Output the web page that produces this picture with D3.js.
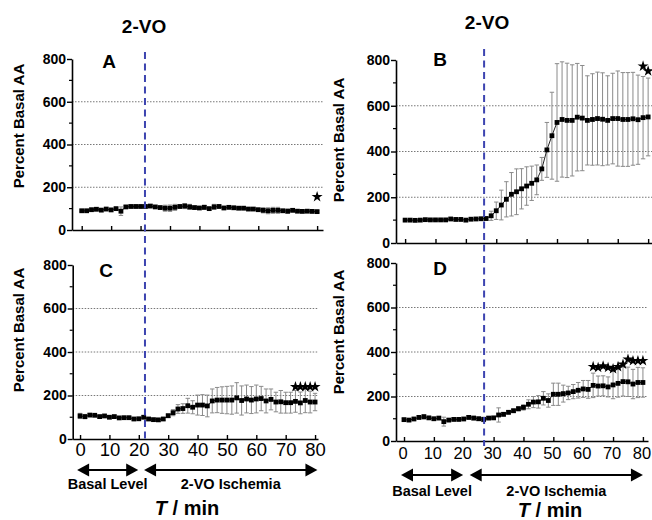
<!DOCTYPE html>
<html><head><meta charset="utf-8">
<script src="https://cdn.jsdelivr.net/npm/d3@7"></script>
<style>body{margin:0;background:#fff} svg{display:block;font-family:"Liberation Sans",Arial,sans-serif}</style>
</head><body><svg id="c" width="652" height="520"></svg>
<script>
// ---- data ----
const times = [0,1.67,3.33,5,6.67,8.33,10,11.67,13.33,15,16.67,18.33,20,21.67,23.33,25,26.67,28.33,30,31.67,33.33,35,36.67,38.33,40,41.67,43.33,45,46.67,48.33,50,51.67,53.33,55,56.67,58.33,60,61.67,63.33,65,66.67,68.33,70,71.67,73.33,75,76.67,78.33,80];
const valuesA = [90,90,95,97,93,98,94,100,88,108,110,110,110,110,112,108,105,102,102,106,110,112,108,105,103,106,100,108,110,103,106,104,102,102,98,98,95,92,90,92,92,90,88,92,88,87,88,87,86];
const errorsA = [4,4,4,4,4,4,4,4,20,5,5,5,5,5,6,5,5,14,15,14,6,12,12,6,5,10,6,12,6,5,5,5,5,5,4,4,4,12,14,14,14,6,10,5,4,4,4,4,4];
const valuesB = [100,100,99,100,102,101,101,101,101,105,103,103,100,104,105,106,107,119,141,166,191,213,224,237,249,261,276,324,407,469,527,540,536,536,550,546,536,540,544,541,536,544,544,540,540,543,539,548,551];
const errorsB = [3,3,3,3,3,3,3,3,3,3,3,3,3,3,3,3,8,20,38,65,77,95,100,88,84,75,65,50,120,190,257,252,250,243,235,230,195,200,203,203,195,198,208,205,205,203,195,180,170];
const valuesC = [106,103,110,109,103,106,100,103,97,98,98,92,93,100,92,89,88,92,107,121,138,140,153,146,156,156,152,175,179,179,179,179,189,177,184,179,184,186,175,182,170,171,167,167,173,166,177,170,170];
const errorsC = [12,10,6,5,5,5,5,5,5,5,5,5,5,5,5,6,6,6,8,14,20,22,34,30,46,48,50,55,58,61,63,65,70,67,64,62,64,56,55,48,45,52,48,48,50,50,56,50,40];
const valuesD = [96,94,99,106,109,104,100,103,87,94,97,97,99,106,103,100,97,103,104,117,120,129,136,145,151,165,175,176,192,182,210,210,213,216,222,228,234,232,250,247,248,243,252,259,267,266,256,263,263];
const errorsD = [6,6,6,8,10,6,6,6,20,5,5,5,5,8,8,8,10,6,6,32,8,8,8,10,12,20,25,28,30,30,50,50,38,30,32,35,38,40,55,45,45,45,62,62,65,66,66,68,66];
const starTimesA = [80], starValuesA = [155];
const starTimesB = [78.33,80], starValuesB = [773,752];
const starTimesC = [73.33,75,76.67,78.33,80], starValuesC = [240,240,240,240,240];
const starTimesD = [63.33,65,66.67,68.33,70,71.67,73.33,75,76.67,78.33,80], starValuesD = [334,330,337,330,324,334,345,367,360,360,361];
const yTicks = [0,200,400,600,800];
const yMinorTicks = [100,300,500,700];
const gridValues = [200,400,600];
const xTicks = [0,10,20,30,40,50,60,70,80];
const ischemiaStart = [21.5, 26];   // left column, right column (min)
const basalSpan = [-1, 19.8], ischemiaSpan = [[21.8, 80.8],[22, 80]];
const panelLetters = ["A","B","C","D"];
const columnTitle = "2-VO";
const yLabel = "Percent Basal AA";
const basalLabel = "Basal Level", ischemiaLabel = "2-VO Ischemia";

// ---- layout ----
const svg = d3.select("#c");
const panels = [
  {L:"A", v:valuesA, e:errorsA, st:starTimesA, sv:starValuesA, xr:[72,323], xd:[-3.3,82], yr:[230,59], labels:false, letter:[109,68], ylab:[19,126], gridEnd:323},
  {L:"B", v:valuesB, e:errorsB, st:starTimesB, sv:starValuesB, xr:[396,653], xd:[-3,81.6], yr:[243,60], labels:false, letter:[440,66], ylab:[339,140], gridEnd:652},
  {L:"C", v:valuesC, e:errorsC, st:starTimesC, sv:starValuesC, xr:[72.7,318], xd:[-2.5,81], yr:[439,265], labels:true, pad:4, fs:18.5, dx:0, letter:[106,277], ylab:[19,330], gridEnd:318},
  {L:"D", v:valuesD, e:errorsD, st:starTimesD, sv:starValuesD, xr:[396,648], xd:[-2.68,81.7], yr:[441,263], labels:true, pad:6, fs:16.5, dx:-1.5, letter:[440,275], ylab:[339,332], gridEnd:648}
];
panels.forEach(p => {
  p.x = d3.scaleLinear().domain(p.xd).range(p.xr);
  p.y = d3.scaleLinear().domain([0,800]).range(p.yr);
});

panels.forEach((p,pi) => {
  const g = svg.append("g");
  // grid
  g.selectAll(".grid").data(gridValues).join("line")
    .attr("x1", p.xr[0]).attr("x2", p.gridEnd)
    .attr("y1", d=>p.y(d)).attr("y2", d=>p.y(d))
    .attr("stroke","#555").attr("stroke-width",0.8).attr("stroke-dasharray","1.5,1.5");
  // y axis
  const ya = g.append("g").attr("transform",`translate(${p.xr[0]},0)`)
    .call(d3.axisLeft(p.y).tickValues(yTicks).tickSize(5).tickSizeOuter(0).tickPadding(1));
  ya.selectAll("text").attr("font-size",14).attr("font-weight","bold").attr("fill","#000").attr("font-family","Liberation Sans, Arial");
  ya.selectAll("line").attr("stroke","#000").attr("stroke-width",1.4);
  ya.select(".domain").attr("stroke","#000").attr("stroke-width",1.6);
  g.selectAll(".minor").data(yMinorTicks).join("line")
    .attr("x1",p.xr[0]-3).attr("x2",p.xr[0]).attr("y1",d=>p.y(d)).attr("y2",d=>p.y(d))
    .attr("stroke","#000").attr("stroke-width",1.2);
  // x axis
  const xa = g.append("g").attr("transform",`translate(0,${p.yr[0]})`)
    .call(d3.axisBottom(p.x).tickValues(xTicks).tickSizeInner(-4).tickSizeOuter(0).tickPadding(p.pad||0));
  xa.select(".domain").attr("stroke","#000").attr("stroke-width",1.6);
  xa.selectAll("line").attr("stroke","#000").attr("stroke-width",1.4);
  if (p.labels) xa.selectAll("text").attr("font-size",p.fs).attr("dx",p.dx).attr("fill","#000").attr("font-family","Liberation Sans, Arial");
  else xa.selectAll("text").remove();
  // error bars
  const eb = g.append("g").attr("stroke","#8a8a8a").attr("stroke-width",1);
  times.forEach((t,i) => {
    const cx = p.x(t), hi = p.y(p.v[i]+p.e[i]), lo = p.y(p.v[i]-p.e[i]);
    eb.append("line").attr("x1",cx).attr("x2",cx).attr("y1",hi).attr("y2",lo);
    eb.append("line").attr("x1",cx-2.2).attr("x2",cx+2.2).attr("y1",hi).attr("y2",hi);
    eb.append("line").attr("x1",cx-2.2).attr("x2",cx+2.2).attr("y1",lo).attr("y2",lo);
  });
  // line
  g.append("path").datum(times.map((t,i)=>[t,p.v[i]]))
    .attr("d", d3.line().x(d=>p.x(d[0])).y(d=>p.y(d[1])))
    .attr("fill","none").attr("stroke","#222").attr("stroke-width",1);
  // markers
  g.selectAll(".pt").data(times.map((t,i)=>[t,p.v[i]])).join("rect")
    .attr("x",d=>p.x(d[0])-2.4).attr("y",d=>p.y(d[1])-2.4)
    .attr("width",4.8).attr("height",4.8).attr("fill","#000");
  // stars
  g.selectAll(".star").data(p.st.map((t,i)=>[t,p.sv[i]])).join("path")
    .attr("d", d3.symbol(d3.symbolStar, 38)())
    .attr("transform", d=>`translate(${p.x(d[0])},${p.y(d[1])})`)
    .attr("fill","#000");
  // letter
  svg.append("text").attr("x",p.letter[0]).attr("y",p.letter[1]).attr("text-anchor","middle")
    .attr("font-size",19).attr("font-weight","bold").text(panelLetters[pi]);
  // y label
  svg.append("text").attr("transform",`translate(${p.ylab[0]},${p.ylab[1]}) rotate(-90)`)
    .attr("text-anchor","middle").attr("dy","0.36em")
    .attr("font-size",15).attr("font-weight","bold").text(yLabel);
});

// dashed ischemia-onset lines (one per column, spanning both panels)
[[0,2,52,441],[1,3,49,446]].forEach((c,ci) => {
  const xp = panels[c[0]].x(ischemiaStart[ci]);
  svg.append("line").attr("x1",xp).attr("x2",xp).attr("y1",c[2]).attr("y2",c[3])
    .attr("stroke","#3d44b0").attr("stroke-width",2).attr("stroke-dasharray","7,4.5");
});

// titles
svg.append("text").attr("x",144).attr("y",33).attr("text-anchor","middle").attr("font-size",19).attr("font-weight","bold").text(columnTitle);
svg.append("text").attr("x",487).attr("y",29).attr("text-anchor","middle").attr("font-size",19).attr("font-weight","bold").text(columnTitle);

// arrows
function dblArrow(x1,x2,y){
  const h=12, w=6.5;
  svg.append("line").attr("x1",x1+h-1).attr("x2",x2-h+1).attr("y1",y).attr("y2",y).attr("stroke","#000").attr("stroke-width",2);
  svg.append("path").attr("d",`M${x1},${y}L${x1+h},${y-w}L${x1+h},${y+w}Z`).attr("fill","#000");
  svg.append("path").attr("d",`M${x2},${y}L${x2-h},${y-w}L${x2-h},${y+w}Z`).attr("fill","#000");
}
const bottoms = [{p:panels[2], ay:470, ty:489, tx:187, tty:515, ci:0},{p:panels[3], ay:475, ty:496, tx:550, tty:517, ci:1}];
bottoms.forEach(b => {
  const x = b.p.x;
  dblArrow(x(basalSpan[0]), x(basalSpan[1]), b.ay);
  dblArrow(x(ischemiaSpan[b.ci][0]), x(ischemiaSpan[b.ci][1]), b.ay);
  svg.append("text").attr("x",x((basalSpan[0]+basalSpan[1])/2)).attr("y",b.ty).attr("text-anchor","middle")
    .attr("font-size",14.5).attr("font-weight","bold").text(basalLabel);
  svg.append("text").attr("x",x((ischemiaSpan[b.ci][0]+ischemiaSpan[b.ci][1])/2)).attr("y",b.ty).attr("text-anchor","middle")
    .attr("font-size",14.5).attr("font-weight","bold").text(ischemiaLabel);
  const t = svg.append("text").attr("x",b.tx).attr("y",b.tty).attr("text-anchor","middle")
    .attr("font-size",20).attr("font-weight","bold");
  t.append("tspan").attr("font-style","italic").text("T");
  t.append("tspan").text(" / min");
});
</script></body></html>
